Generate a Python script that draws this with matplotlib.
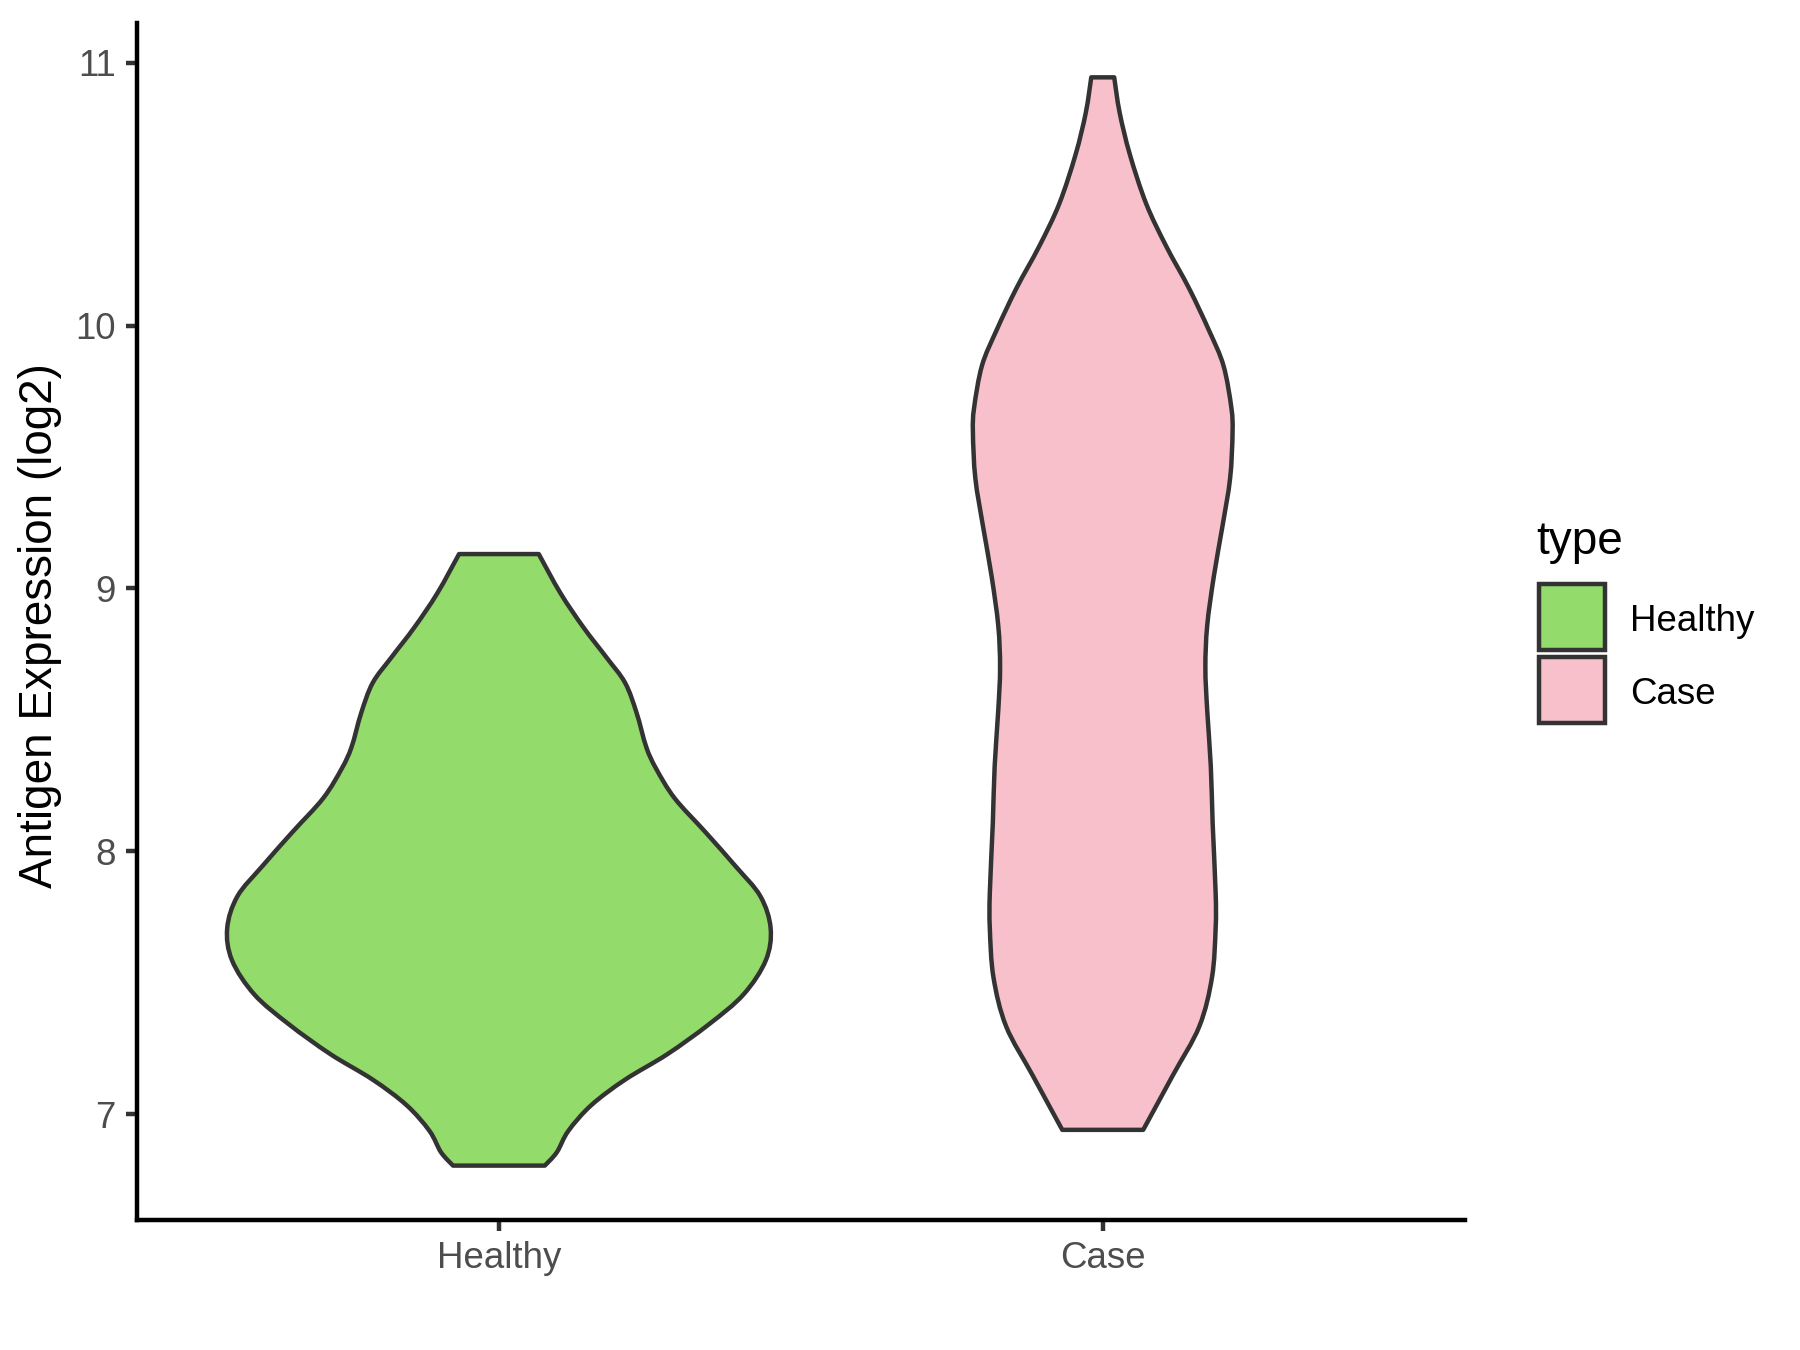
import numpy as np
import matplotlib
matplotlib.use("Agg")
import matplotlib.pyplot as plt
from matplotlib.patches import Rectangle, PathPatch
from matplotlib.path import Path

plt.rcParams['font.family'] = ['Liberation Sans', 'DejaVu Sans']

groups = ['Healthy', 'Case']
colors = ['#93DB6A', '#F7C0CB']

# violin outlines: expression level and half width
healthy_y = [9.131, 8.982, 8.852, 8.738, 8.641, 8.527, 8.397, 8.316, 8.202,
             8.073, 7.943, 7.829, 7.707, 7.585, 7.455, 7.342, 7.228, 7.131,
             7.034, 6.936, 6.855, 6.804]
healthy_w = [0.066, 0.102, 0.140, 0.178, 0.209, 0.228, 0.244, 0.260, 0.291,
             0.342, 0.392, 0.433, 0.450, 0.442, 0.405, 0.348, 0.279, 0.209,
             0.153, 0.115, 0.096, 0.076]

case_y = [10.945, 10.811, 10.651, 10.464, 10.303, 10.142, 9.982, 9.848, 9.688,
          9.594, 9.420, 9.233, 9.046, 8.858, 8.698, 8.537, 8.323, 8.109,
          7.842, 7.708, 7.521, 7.334, 7.147, 6.940]
case_w = [0.019, 0.028, 0.045, 0.072, 0.105, 0.143, 0.176, 0.200, 0.213,
          0.215, 0.211, 0.198, 0.184, 0.173, 0.170, 0.173, 0.179, 0.182,
          0.187, 0.187, 0.181, 0.160, 0.116, 0.067]

profiles = [(healthy_y, healthy_w), (case_y, case_w)]


def smooth_through(pts):
    # catmull-rom through the points, as cubic bezier pieces
    p = np.vstack([pts[0], pts, pts[-1]])
    verts, codes = [], []
    for i in range(1, len(p) - 2):
        c1 = p[i] + (p[i + 1] - p[i - 1]) / 6
        c2 = p[i + 1] - (p[i + 2] - p[i]) / 6
        verts += [c1, c2, p[i + 1]]
        codes += [Path.CURVE4] * 3
    return verts, codes


fig = plt.figure(figsize=(6, 4.5), dpi=300)
ax = fig.add_axes([0.0759, 0.0963, 0.738, 0.8867])

for i, (yy, ww) in enumerate(profiles):
    yy = np.array(yy)
    ww = np.array(ww)
    pos = i + 1
    left = np.column_stack([pos - ww, yy])
    right = np.column_stack([pos + ww, yy])[::-1]
    verts = [left[0]]
    codes = [Path.MOVETO]
    v, c = smooth_through(left)
    verts += v
    codes += c
    verts.append(right[0])
    codes.append(Path.LINETO)
    v, c = smooth_through(right)
    verts += v
    codes += c
    verts.append(left[0])
    codes.append(Path.CLOSEPOLY)
    ax.add_patch(PathPatch(Path(verts, codes), facecolor=colors[i],
                           edgecolor='#333333', linewidth=1.07, joinstyle='round'))

ax.set_xlim(0.4, 2.6)
ax.set_ylim(6.597, 11.152)
ax.set_xticks([1, 2])
ax.set_xticklabels(groups)
ax.set_yticks([7, 8, 9, 10, 11])

for s in ['top', 'right']:
    ax.spines[s].set_visible(False)
for s in ['left', 'bottom']:
    ax.spines[s].set_linewidth(1.07)
    ax.spines[s].set_color('black')
ax.tick_params(axis='both', length=2.75, width=1.07, color='#333333',
               labelsize=8.8, labelcolor='#4D4D4D', pad=2.2)

ax.set_ylabel('Antigen Expression (log2)', fontsize=11, color='black', va='center')
ax.yaxis.set_label_coords(-0.0727, 0.497)

# legend
fig.text(1536 / 1800, 1 - 542 / 1350, 'type', fontsize=11, ha='left', va='center')
key_w = 66 / 1800
key_h = 66 / 1350
key_tops = [584, 657]
for i, g in enumerate(groups):
    y0 = 1 - (key_tops[i] + 66) / 1350
    fig.patches.append(Rectangle((1539 / 1800, y0), key_w, key_h,
                                 transform=fig.transFigure, facecolor=colors[i],
                                 edgecolor='#333333', linewidth=1.07))
    fig.text(1630 / 1800, y0 + key_h / 2 - 5 / 1350, g, fontsize=8.8,
             ha='left', va='center')

fig.savefig('out.png', dpi=300)
